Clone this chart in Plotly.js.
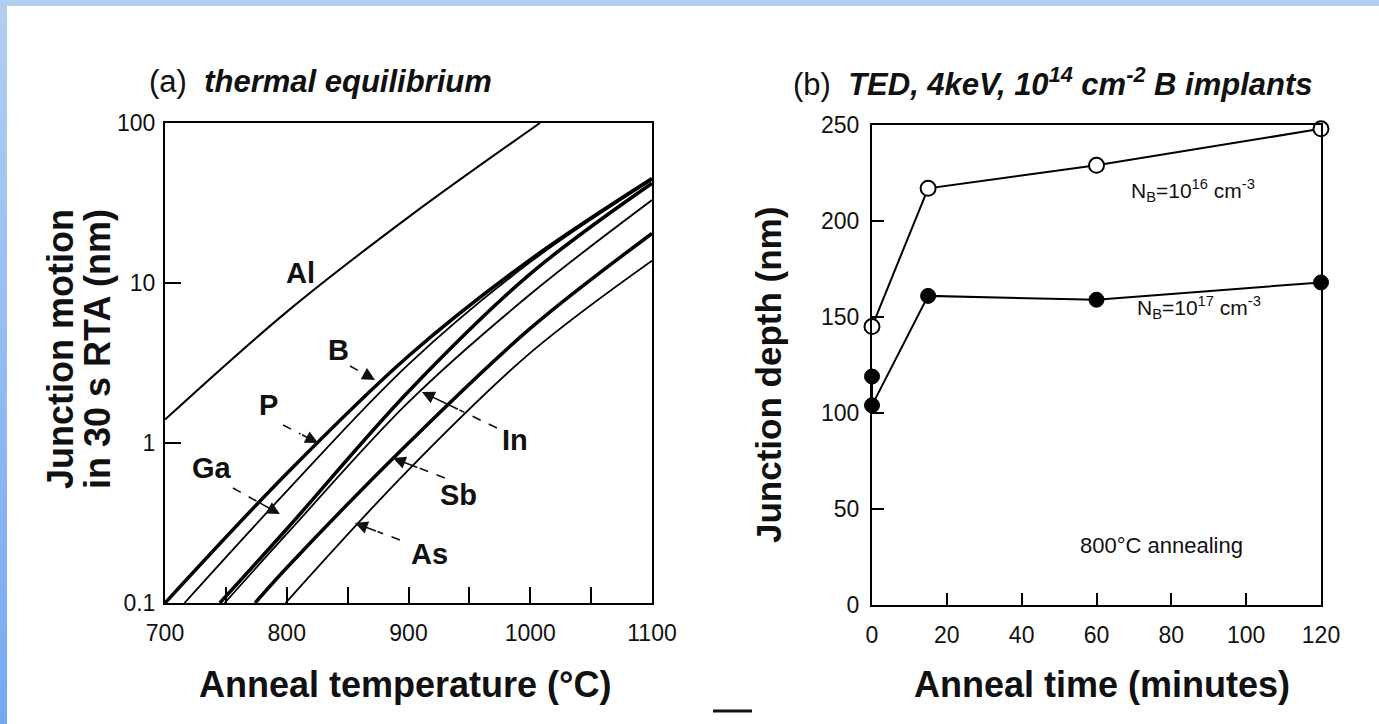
<!DOCTYPE html>
<html><head><meta charset="utf-8">
<script src="https://cdn.plot.ly/plotly-3.0.1.min.js"></script>
<style>
html,body{margin:0;padding:0;background:#fff;}
#wrap{position:relative;width:1379px;height:724px;overflow:hidden;background:#fff;}
#topstrip{position:absolute;left:0;top:0;width:1379px;height:6px;background:#b2cff0;z-index:2;}
#leftstrip{position:absolute;left:0;top:0;width:7px;height:724px;background:linear-gradient(#b2cff0,#76a8f3);z-index:2;}
#chart{position:absolute;left:0;top:0;width:1379px;height:724px;}
</style></head><body>
<div id="wrap"><div id="chart"></div><div id="topstrip"></div><div id="leftstrip"></div></div>
<script>
// ---------- Panel (a): junction motion vs anneal temperature ----------
const tempAl = [700, 800, 900, 1008];
const motionAl = [1.4, 6.6, 25.8, 100];
const tempB = [700, 800, 900, 1000, 1100];
const motionB = [0.1, 0.645, 3.5, 14, 45];
const tempP = [716, 800, 900, 1000, 1100];
const motionP = [0.1, 0.5, 3.1, 13.5, 44];
const tempGa = [745, 800, 900, 1000, 1100];
const motionGa = [0.1, 0.29, 2.1, 11.4, 42];
const tempIn = [749, 800, 900, 1000, 1100];
const motionIn = [0.1, 0.27, 1.8, 8.5, 33];
const tempSb = [774, 800, 900, 1000, 1100];
const motionSb = [0.1, 0.166, 1.0, 5.2, 20.4];
const tempAs = [799, 900, 1000, 1100];
const motionAs = [0.1, 0.68, 3.66, 13.8];
const tempTicks = [700, 800, 900, 1000, 1100];
const motionTicks = [0.1, 1, 10, 100];
const motionTickText = ['0.1', '1', '10', '100'];

// ---------- Panel (b): junction depth vs anneal time ----------
const time16 = [0, 15, 60, 120];
const depth16 = [145, 217, 229, 248];
const time17 = [0, 0, 15, 60, 120];
const depth17 = [119, 104, 161, 159, 168];
const timeTicks = [0, 20, 40, 60, 80, 100, 120];
const depthTicks = [0, 50, 100, 150, 200, 250];

const FONT = 'Liberation Sans, Arial, Helvetica, sans-serif';
const W = 1379, H = 724;
const px = v => v / W;
const py = v => 1 - v / H;

function curve(x, y, width, name) {
  return {x: x, y: y, type: 'scatter', mode: 'lines', name: name,
    line: {color: '#000', width: width, shape: 'spline', smoothing: 1},
    xaxis: 'x', yaxis: 'y', hoverinfo: 'skip', cliponaxis: true};
}

const traces = [
  curve(tempAl, motionAl, 2, 'Al'),
  curve(tempB, motionB, 3.5, 'B'),
  curve(tempP, motionP, 1.8, 'P'),
  curve(tempGa, motionGa, 3.5, 'Ga'),
  curve(tempIn, motionIn, 1.8, 'In'),
  curve(tempSb, motionSb, 3.5, 'Sb'),
  curve(tempAs, motionAs, 1.8, 'As'),
  {x: time16, y: depth16, type: 'scatter', mode: 'lines+markers', name: 'NB=1e16',
   xaxis: 'x2', yaxis: 'y2', cliponaxis: false,
   line: {color: '#000', width: 2},
   marker: {symbol: 'circle', size: 15, color: '#fff', line: {color: '#000', width: 2}}},
  {x: time17, y: depth17, type: 'scatter', mode: 'lines+markers', name: 'NB=1e17',
   xaxis: 'x2', yaxis: 'y2', cliponaxis: false,
   line: {color: '#000', width: 2},
   marker: {symbol: 'circle', size: 15, color: '#000', line: {color: '#000', width: 1}}}
];

const axisCommon = {
  ticks: 'inside', tickwidth: 2, tickcolor: '#000', showline: true, linewidth: 2,
  linecolor: '#000', mirror: true, showgrid: false, zeroline: false, fixedrange: true,
  tickfont: {family: FONT, size: 23, color: '#111'}, automargin: false
};

// curve labels: [text, temperature, log10 motion]
const labels = [['Al', 810.9, 1.0625], ['B', 842.1, 0.581], ['P', 784.6, 0.2375], ['Ga', 738.6, -0.156],
  ['In', 987.4, 0.019], ['Sb', 941, -0.325], ['As', 917, -0.694]];
const labelAnn = labels.map(l => ({text: '<b>' + l[0] + '</b>', x: l[1], y: l[2], xref: 'x', yref: 'y',
  showarrow: false, xanchor: 'center', yanchor: 'middle', font: {family: FONT, size: 29, color: '#111'}}));

// arrow: tip at (temperature, log10 motion), tail offset (ax, ay) in pixels; dashed shaft + solid head
const XS = 400 / 487, YS = 1 / 160, HEAD = 0.5;
const arrows = [
  [872.5, 0.394, -25, -14],
  [825.7, 0.0, -35, -18],
  [794.4, -0.444, -47, -26],
  [911, 0.319, 75, 36],
  [887.2, -0.094, 52, 20],
  [856, -0.5, 45, 17]
];
const arrowAnn = arrows.map(a => ({text: '', x: a[0], y: a[1], xref: 'x', yref: 'y',
  ax: a[2] * HEAD, ay: a[3] * HEAD, showarrow: true, arrowhead: 2, arrowsize: 1.6,
  arrowwidth: 1.6, arrowcolor: '#111'}));
const arrowShapes = arrows.map(a => ({type: 'line', xref: 'x', yref: 'y',
  x0: a[0] + a[2] * XS, y0: Math.pow(10, a[1] - a[3] * YS),
  x1: a[0] + a[2] * HEAD * XS, y1: Math.pow(10, a[1] - a[3] * HEAD * YS),
  line: {color: '#111', width: 1.6, dash: 'dash'}}));

function paperText(text, x, y, size, angle) {
  return {text: text, x: px(x), y: py(y), xref: 'paper', yref: 'paper', showarrow: false,
    xanchor: 'center', yanchor: 'middle', textangle: angle || 0,
    font: {family: FONT, size: size, color: '#111'}};
}

const annotations = [
  paperText('(a)  <i><b>thermal equilibrium</b></i>', 320, 82, 31),
  paperText('(b)  <i><b>TED, 4keV, 10<sup>14</sup> cm<sup>-2</sup> B implants</b></i>', 1053, 82, 31),
  paperText('<b>Anneal temperature (°C)</b>', 405, 684, 36),
  paperText('<b>Anneal time (minutes)</b>', 1102, 684, 36),
  paperText('<b>Junction motion</b>', 60, 349, 36, -90),
  paperText('<b>in 30 s RTA (nm)</b>', 97, 349, 36, -90),
  paperText('<b>Junction depth (nm)</b>', 768, 375, 35, -90),
  {text: 'N<sub>B</sub>=10<sup>16</sup> cm<sup>-3</sup>', x: 85.8, y: 216, xref: 'x2', yref: 'y2',
   showarrow: false, xanchor: 'center', yanchor: 'middle', font: {family: FONT, size: 21, color: '#111'}},
  {text: 'N<sub>B</sub>=10<sup>17</sup> cm<sup>-3</sup>', x: 87.4, y: 155, xref: 'x2', yref: 'y2',
   showarrow: false, xanchor: 'center', yanchor: 'middle', font: {family: FONT, size: 21, color: '#111'}},
  {text: '800°C annealing', x: 77.5, y: 31, xref: 'x2', yref: 'y2',
   showarrow: false, xanchor: 'center', yanchor: 'middle', font: {family: FONT, size: 22, color: '#111'}}
].concat(labelAnn, arrowAnn);

const layout = {
  width: W, height: H, margin: {l: 0, r: 0, t: 0, b: 0},
  paper_bgcolor: 'rgba(0,0,0,0)', plot_bgcolor: 'rgba(0,0,0,0)', showlegend: false,
  xaxis: Object.assign({}, axisCommon, {domain: [px(165), 652 / W], range: [700, 1100],
    tickvals: tempTicks, ticklen: 16, ticklabelstandoff: 8, anchor: 'y',
    minor: {tick0: 700, dtick: 50, ticks: 'inside', ticklen: 16, tickwidth: 2, tickcolor: '#000', showgrid: false}}),
  yaxis: Object.assign({}, axisCommon, {domain: [py(603), py(123)], type: 'log', range: [-1, 2],
    tickvals: motionTicks, ticktext: motionTickText, ticklen: 16, ticklabelstandoff: 3, anchor: 'x'}),
  xaxis2: Object.assign({}, axisCommon, {domain: [px(872), 1321 / W], range: [0, 120],
    tickvals: timeTicks, ticklen: 12, ticklabelstandoff: 8, anchor: 'y2'}),
  yaxis2: Object.assign({}, axisCommon, {domain: [py(605), py(125)], range: [0, 250],
    tickvals: depthTicks, ticklen: 12, ticklabelstandoff: 6, anchor: 'x2'}),
  annotations: annotations,
  shapes: arrowShapes.concat([{type: 'line', xref: 'paper', yref: 'paper', x0: px(713), x1: px(752),
    y0: py(711), y1: py(711), line: {color: '#111', width: 3}}])
};

Plotly.newPlot('chart', traces, layout, {displayModeBar: false, staticPlot: true});
</script></body></html>
